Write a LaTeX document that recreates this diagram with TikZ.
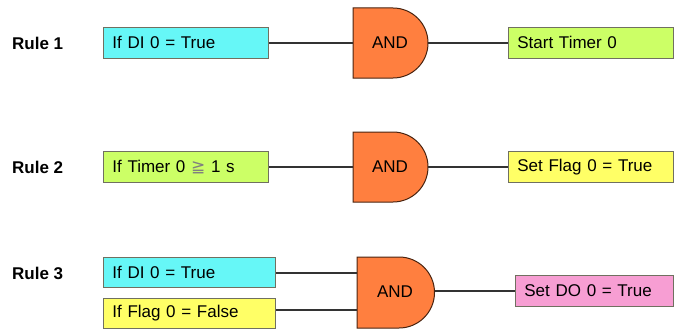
\documentclass[tikz,border=0pt]{standalone}
\usepackage{fontspec}
\setmainfont{Liberation Sans}
\newfontfamily\symfont{DejaVu Sans}
\definecolor{cyanbox}{HTML}{66F7F7}
\definecolor{greenbox}{HTML}{CCFF66}
\definecolor{yellowbox}{HTML}{FFFF66}
\definecolor{pinkbox}{HTML}{F79ED3}
\definecolor{gateorange}{HTML}{FF7F3F}
\definecolor{gateline}{HTML}{4A2410}
\definecolor{boxline}{HTML}{707060}
\begin{document}
\begin{tikzpicture}[x=1pt,y=-1pt,
  txt/.style={font=\fontsize{17}{19}\selectfont},
  rulelabel/.style={font=\fontsize{17}{19}\selectfont\bfseries, anchor=west, inner sep=0pt},
  cbox/.style={draw=boxline, line width=0.8pt, rectangle, inner sep=0pt, inner xsep=9pt,
     anchor=north west, minimum height=#1, align=left, txt},
  gate/.style={fill=gateorange, draw=gateline, line width=1pt},
  wire/.style={draw=black!80, line width=1.3pt}]
\useasboundingbox (0,0) rectangle (676,329);

% labels
\node[rulelabel] (r1) at (12,43) {Rule 1};
\node[rulelabel] (r2) at (12,167) {Rule 2};
\node[rulelabel] (r3) at (12,273) {Rule 3};

% input boxes
\node[cbox=31pt, fill=cyanbox, text width=147pt] (a1) at (103,27) {If DI 0 = True};
\node[cbox=31pt, fill=greenbox, text width=147pt] (a2) at (103,151) {If Timer 0 {\symfont\color{gray}≧} 1 s};
\node[cbox=30pt, fill=cyanbox, text width=154pt] (a3) at (103,257) {If DI 0 = True};
\node[cbox=30pt, fill=yellowbox, text width=154pt] (b3) at (103,298) {If Flag 0 = False};

% output boxes
\node[cbox=31pt, fill=greenbox, text width=147pt] (o1) at (508,27) {Start Timer 0};
\node[cbox=31pt, fill=yellowbox, text width=147pt] (o2) at (508,151) {Set Flag 0 = True};
\node[cbox=31pt, fill=pinkbox, text width=140pt] (o3) at (515,275) {Set DO 0 = True};

% gates
\draw[gate] (353,8) -- (393,8) arc[start angle=90,end angle=-90,radius=35pt] -- (353,78) -- cycle;
\node[txt, inner sep=0pt] (g1) at (390,43) {AND};
\coordinate (g1in) at (353,43);
\coordinate (g1out) at (428,43);

\draw[gate] (353,132) -- (393,132) arc[start angle=90,end angle=-90,radius=35pt] -- (353,202) -- cycle;
\node[txt, inner sep=0pt] (g2) at (390,167) {AND};
\coordinate (g2in) at (353,167);
\coordinate (g2out) at (428,167);

\draw[gate] (357,257) -- (399,257) arc[start angle=90,end angle=-90,radius=35.5pt] -- (357,328) -- cycle;
\node[txt, inner sep=0pt] (g3) at (395,292) {AND};
\coordinate (g3ina) at (357,273);
\coordinate (g3inb) at (357,310);
\coordinate (g3out) at (434.5,291);

% wires
\draw[wire] (a1.east |- g1in) -- (g1in);
\draw[wire] (g1out) -- (g1out -| o1.west);
\draw[wire] (a2.east |- g2in) -- (g2in);
\draw[wire] (g2out) -- (g2out -| o2.west);
\draw[wire] (a3.east |- g3ina) -- (g3ina);
\draw[wire] (b3.east |- g3inb) -- (g3inb);
\draw[wire] (g3out) -- (g3out -| o3.west);
\end{tikzpicture}
\end{document}
